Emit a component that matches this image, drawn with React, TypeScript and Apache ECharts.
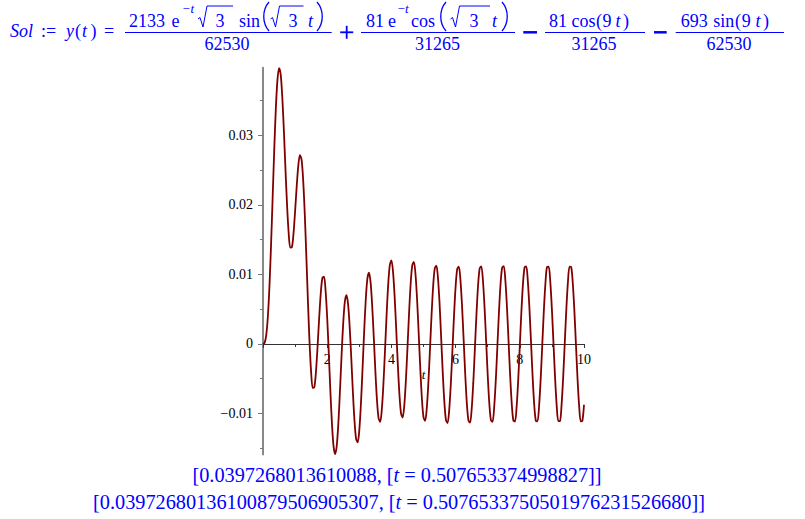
import React, { useEffect, useRef } from "react";
import * as echarts from "echarts";

const T_STEP = 0.05;
const yValues = [
  0.000000, 0.000162, 0.001231, 0.003837, 0.008214, 0.014143, 0.021005, 0.027906, 0.033860, 0.037987,
  0.039696, 0.038808, 0.035592, 0.030724, 0.025150, 0.019911, 0.015935, 0.013861, 0.013914, 0.015868,
  0.019094, 0.022692, 0.025669, 0.027151, 0.026546, 0.023685, 0.018835, 0.012669, 0.006128, 0.000228,
  -0.004127, -0.006333, -0.006200, -0.003991, -0.000369, 0.003739, 0.007324, 0.009498, 0.009669, 0.007661,
  0.003746, -0.001406, -0.006866, -0.011633, -0.014809, -0.015830, -0.014529, -0.011195, -0.006508, -0.001411,
  0.003083, 0.006089, 0.007024, 0.005726, 0.002482, -0.002028, -0.006867, -0.011032, -0.013648, -0.014148,
  -0.012388, -0.008666, -0.003677, 0.001633, 0.006256, 0.009316, 0.010250, 0.008966, 0.005620, 0.001057,
  -0.003828, -0.008026, -0.010670, -0.011206, -0.009499, -0.005865, -0.001007, 0.004126, 0.008531, 0.011342,
  0.012012, 0.010417, 0.006881, 0.002114, -0.002931, -0.007249, -0.009979, -0.010579, -0.008932, -0.005369,
  -0.000604, 0.004408, 0.008665, 0.011310, 0.011812, 0.010062, 0.006402, 0.001551, -0.003531, -0.007841,
  -0.010529, -0.011066, -0.009354, -0.005740, -0.000952, 0.004052, 0.008270, 0.010854, 0.011285, 0.009527,
  0.005874, 0.000923, -0.004123, -0.008359, -0.010944, -0.011368, -0.009546, -0.005845, -0.001000, 0.004020,
  0.008217, 0.010756, 0.011128, 0.009262, 0.005529, 0.000672, -0.004341, -0.008510, -0.011004, -0.011326,
  -0.009412, -0.005639, -0.000759, 0.004257, 0.008414, 0.010885, 0.011177, 0.009236, 0.005448, 0.000568,
  -0.004429, -0.008535, -0.010961, -0.011204, -0.009217, -0.005395, -0.000498, 0.004497, 0.008598, 0.010986,
  0.011187, 0.009160, 0.005310, 0.000402, -0.004585, -0.008660, -0.011011, -0.011169, -0.009103, -0.005225,
  -0.000307, 0.004673, 0.008722, 0.011035, 0.011150, 0.009046, 0.005140, 0.000211, -0.004760, -0.008783,
  -0.011058, -0.011130, -0.008987, -0.005054, -0.000115, 0.004847, 0.008844, 0.011080, 0.011110, 0.008928,
  0.004968, 0.000020, -0.004933, -0.008904, -0.011101, -0.011089, -0.008869, -0.004882, 0.000076, 0.005019,
  0.008963, 0.011122, 0.011067, 0.008808, 0.004795, -0.000172, -0.005105, -0.009022, -0.011143, -0.011044,
  -0.008747,
];
const tValues = yValues.map((_, i) => Number((i * T_STEP).toFixed(2)));

const X_MIN = 0;
const X_MAX = 10;
const X_INTERVAL = 2;
const Y_MIN = -0.0159;
const Y_MAX = 0.03973;
const yMajorTicks = [-0.01, 0, 0.01, 0.02, 0.03];
const yMinorTicks = [-0.015, -0.005, 0.005, 0.015, 0.025, 0.035];

const maxLine1 = ["0.0397268013610088", "0.507653374998827"];
const maxLine2 = ["0.03972680136100879506905307", "0.5076533750501976231526680"];

const BLUE = "#0000ff";
const FONT = '"Liberation Serif", "Times New Roman", serif';
const CURVE = "#800000";

// plot box (pixels)
const GRID_LEFT = 263;
const GRID_TOP = 67.8;
const GRID_W = 321;
const GRID_H = 386.7;
// move the x axis (line, ticks, labels, name) up to y = 0
const X_AXIS_OFFSET = -((0 - Y_MIN) / (Y_MAX - Y_MIN)) * GRID_H;

type Part = [string, number, number, number?, boolean?, string?];

function txt(p: Part) {
  const [text, x, y, size = 18, italic = false, align = "left"] = p;
  return {
    type: "text",
    x,
    y,
    silent: true,
    style: {
      text,
      fill: BLUE,
      fontSize: size,
      fontFamily: FONT,
      fontStyle: italic ? "italic" : "normal",
      textAlign: align,
      textVerticalAlign: "middle",
    },
  };
}
function hline(x1: number, x2: number, y: number, w = 1) {
  return { type: "line", silent: true, shape: { x1, y1: y, x2, y2: y }, style: { stroke: BLUE, lineWidth: w } };
}
function vline(x: number, y1: number, y2: number, w = 1) {
  return { type: "line", silent: true, shape: { x1: x, y1, x2: x, y2 }, style: { stroke: BLUE, lineWidth: w } };
}
function radical(x: number, end: number) {
  return {
    type: "polyline",
    silent: true,
    shape: { points: [[x, 19], [x + 2, 17.5], [x + 5, 27], [x + 9, 6], [end, 6]] },
    style: { stroke: BLUE, lineWidth: 1, fill: null },
  };
}
function paren(x: number, left: boolean) {
  const d = left ? -7 : 7;
  return {
    type: "bezierCurve",
    silent: true,
    shape: { x1: x, y1: 2, x2: x, y2: 31, cpx1: x + d, cpy1: 10, cpx2: x + d, cpy2: 23 },
    style: { stroke: BLUE, lineWidth: 1.3, fill: null },
  };
}

const NUM = 20.6;
const DEN = 43.9;
const MAIN = 31.3;

const titleParts: Part[] = [
  ["Sol", 10, MAIN, 18, true],
  [":=", 41, MAIN],
  ["y", 66, MAIN, 18, true],
  ["(", 75, MAIN],
  ["t", 82, MAIN, 18, true],
  [")", 90.5, MAIN],
  ["=", 104, MAIN],
  // fraction 1
  ["2133", 129, NUM],
  ["e", 171.5, NUM],
  ["\u2212", 182.5, 8.6, 13],
  ["t", 190.5, 8.6, 13, true],
  ["3", 220, NUM, 18, false, "center"],
  ["sin", 239, NUM],
  ["3", 293, NUM, 18, false, "center"],
  ["t", 308, NUM, 18, true],
  ["62530", 227, DEN, 18, false, "center"],
  // fraction 2
  ["81", 366, NUM],
  ["e", 388, NUM],
  ["\u2212", 397.5, 8.6, 13],
  ["t", 405, 8.6, 13, true],
  ["cos", 411, NUM],
  ["3", 474, NUM, 18, false, "center"],
  ["t", 492, NUM, 18, true],
  ["31265", 437.5, DEN, 18, false, "center"],
  // fraction 3
  ["81", 549, NUM],
  ["cos", 571.5, NUM],
  ["(", 596, NUM],
  ["9", 602.5, NUM],
  ["t", 615.5, NUM, 18, true],
  [")", 623, NUM],
  ["31265", 594, DEN, 18, false, "center"],
  // fraction 4
  ["693", 680.7, NUM],
  ["sin", 713.3, NUM],
  ["(", 735, NUM],
  ["9", 741.7, NUM],
  ["t", 755.5, NUM, 18, true],
  [")", 763, NUM],
  ["62530", 729, DEN, 18, false, "center"],
];

const richT = { i: { fontSize: 20.3, fontFamily: FONT, fontStyle: "italic", fill: BLUE } };

const graphics: any[] = [
  ...titleParts.map(txt),
  hline(125, 331.7, 32.5),
  hline(361, 515, 32.5),
  hline(545, 645, 32.5),
  hline(675.7, 784, 32.5),
  // plus sign
  hline(340.2, 353.2, 32.3, 1.8),
  vline(346.7, 25.8, 38.8, 1.8),
  // minus signs
  hline(523.3, 537, 32.3, 2.5),
  hline(654, 666.7, 32.3, 2.5),
  radical(198, 233),
  radical(270.5, 303.5),
  radical(450.5, 490),
  paren(269, true),
  paren(317, false),
  paren(446, true),
  paren(502, false),
  {
    type: "text",
    x: 397,
    y: 474.5,
    silent: true,
    style: {
      text: "[" + maxLine1[0] + ", [{i|t} = " + maxLine1[1] + "]]",
      fill: BLUE,
      fontSize: 20.3,
      fontFamily: FONT,
      textAlign: "center",
      textVerticalAlign: "middle",
      rich: richT,
    },
  },
  {
    type: "text",
    x: 399,
    y: 502,
    silent: true,
    style: {
      text: "[" + maxLine2[0] + ", [{i|t} = " + maxLine2[1] + "]]",
      fill: BLUE,
      fontSize: 20.3,
      fontFamily: FONT,
      textAlign: "center",
      textVerticalAlign: "middle",
      rich: richT,
    },
  },
];

const fmtY = (v: number) => (v === 0 ? "0" : (v < 0 ? "\u2212" : "") + Math.abs(v).toFixed(2));

export default function App() {
  const ref = useRef<HTMLDivElement>(null);
  useEffect(() => {
    if (!ref.current) return;
    const chart = echarts.init(ref.current, undefined, { renderer: "svg", width: 805, height: 519 });
    const option: any = {
      animation: false,
      backgroundColor: "#ffffff",
      grid: { left: GRID_LEFT, top: GRID_TOP, width: GRID_W, height: GRID_H, containLabel: false },
      xAxis: {
        type: "value",
        min: X_MIN,
        max: X_MAX,
        interval: X_INTERVAL,
        position: "bottom",
        offset: X_AXIS_OFFSET,
        name: "t",
        nameLocation: "middle",
        nameGap: 24,
        nameMoveOverlap: false,
        nameTextStyle: { fontFamily: FONT, fontStyle: "italic", fontSize: 13, color: "#000" },
        axisLine: { show: true, onZero: false, lineStyle: { color: "#333", width: 1 } },
        axisTick: { show: true, length: 4, lineStyle: { color: "#333", width: 1 } },
        minorTick: { show: true, splitNumber: 2, length: 3, lineStyle: { color: "#333", width: 1 } },
        axisLabel: { showMinLabel: false, fontFamily: FONT, fontSize: 14, color: "#000", margin: 9 },
        splitLine: { show: false },
        minorSplitLine: { show: false },
      },
      yAxis: [
        {
          type: "value",
          min: Y_MIN,
          max: Y_MAX,
          position: "left",
          axisLine: { show: true, onZero: false, lineStyle: { color: "#888", width: 2 } },
          axisTick: { show: true, length: 5, customValues: yMajorTicks, lineStyle: { color: "#777", width: 1 } },
          axisLabel: {
            customValues: yMajorTicks,
            formatter: fmtY,
            fontFamily: FONT,
            fontSize: 14,
            color: "#000",
            margin: 10,
          },
          splitLine: { show: false },
        },
        {
          type: "value",
          min: Y_MIN,
          max: Y_MAX,
          position: "left",
          axisLine: { show: false, onZero: false },
          axisTick: { show: true, length: 3, customValues: yMinorTicks, lineStyle: { color: "#777", width: 1 } },
          axisLabel: { show: false },
          splitLine: { show: false },
        },
      ],
      series: [
        {
          type: "line",
          xAxisIndex: 0,
          yAxisIndex: 0,
          data: tValues.map((t, i) => [t, yValues[i]]),
          showSymbol: false,
          smooth: 0.3,
          clip: false,
          lineStyle: { color: CURVE, width: 1.8 },
          itemStyle: { color: CURVE },
        },
      ],
      graphic: graphics,
    };
    chart.setOption(option);
    return () => chart.dispose();
  }, []);
  return <div ref={ref} style={{ position: "absolute", left: 0, top: 0, width: 805, height: 519 }} />;
}
